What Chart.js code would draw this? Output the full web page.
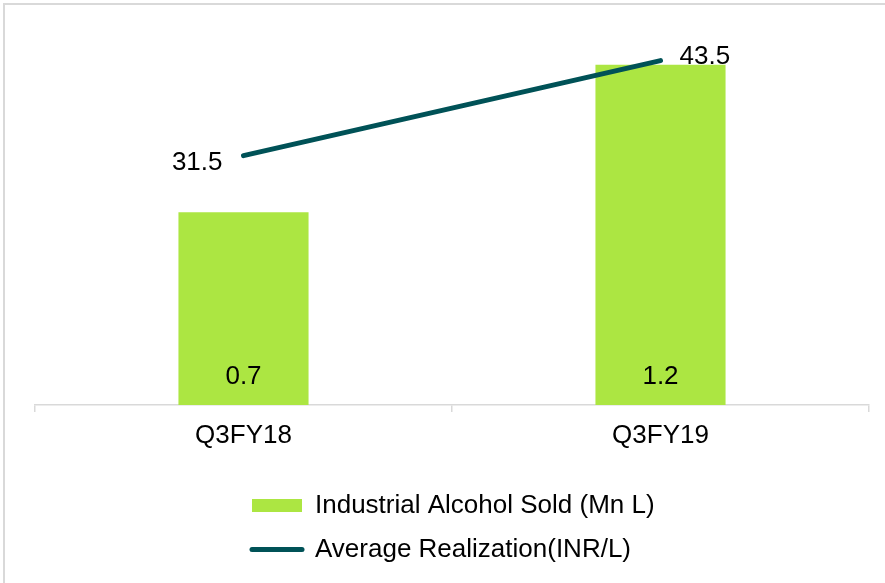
<!DOCTYPE html>
<html><head><meta charset="utf-8">
<script src="https://cdn.jsdelivr.net/npm/chart.js@4/dist/chart.umd.min.js"></script>
<style>
html,body{margin:0;padding:0;background:#fff;overflow:hidden;}
#wrap{position:relative;width:885px;height:583px;overflow:hidden;}
#frame{position:absolute;left:3px;top:3px;width:1000px;height:1000px;border-top:2px solid #d9d9d9;border-left:2px solid #d9d9d9;pointer-events:none;}
canvas{position:absolute;left:0;top:0;}
</style></head><body>
<div id="wrap"><canvas id="c" width="885" height="583"></canvas><div id="frame"></div></div>
<script>
// ---- data ----
const categories = ['Q3FY18', 'Q3FY19'];
const alcoholSold = [0.68, 1.2];          // Industrial Alcohol Sold (Mn L)
const avgRealization = [31.5, 43.5];      // Average Realization (INR/L)
const seriesNames = ['Industrial Alcohol Sold (Mn L)', 'Average Realization(INR/L)'];

// ---- style ----
const GREEN = '#ace642';
const TEAL = '#005257';
const FONT = { family: "'Liberation Sans', Arial, sans-serif", size: 26 };
const FONT_CSS = "26px 'Liberation Sans', Arial, sans-serif";
const LEGEND_LEFT = 234, LEGEND_TOP = 474.5;
const legendStyles = [
  { pointStyle: 'rect', fillStyle: GREEN, strokeStyle: GREEN, lineWidth: 0 },
  { pointStyle: 'line', fillStyle: TEAL, strokeStyle: TEAL, lineWidth: 5, lineCap: 'round' }
];
const lineLabelPlacement = [
  { align: 'right', dx: -21, dy: 7 },
  { align: 'left', dx: 19, dy: -4 }
];

const legendMover = {
  id: 'legendMover',
  afterLayout(chart) {
    const lg = chart.legend;
    if (!lg) return;
    const w = lg.width, h = lg.height;
    lg.left = LEGEND_LEFT; lg.top = LEGEND_TOP;
    lg.right = lg.left + w; lg.bottom = lg.top + h;
  }
};

const valueLabels = {
  id: 'valueLabels',
  afterDatasetsDraw(chart) {
    const ctx = chart.ctx;
    ctx.save();
    ctx.font = FONT_CSS;
    ctx.fillStyle = '#000';
    ctx.textBaseline = 'middle';
    chart.getDatasetMeta(0).data.forEach((el, i) => {
      const p = el.getProps(['x', 'base'], true);
      ctx.textAlign = 'center';
      ctx.fillText(alcoholSold[i].toFixed(1), p.x, p.base - 28);
    });
    chart.getDatasetMeta(1).data.forEach((el, i) => {
      const o = lineLabelPlacement[i];
      ctx.textAlign = o.align;
      ctx.fillText(avgRealization[i].toFixed(1), el.x + o.dx, el.y + o.dy);
    });
    ctx.restore();
  }
};

new Chart(document.getElementById('c'), {
  type: 'bar',
  data: {
    labels: categories,
    datasets: [
      { type: 'bar', label: seriesNames[0], data: alcoholSold, backgroundColor: GREEN,
        yAxisID: 'y', barPercentage: 0.312, categoryPercentage: 1, order: 1 },
      { type: 'line', label: seriesNames[1], data: avgRealization, borderColor: TEAL,
        backgroundColor: TEAL, borderWidth: 5, borderCapStyle: 'round', pointRadius: 0,
        tension: 0, yAxisID: 'y1', order: 0 }
    ]
  },
  options: {
    responsive: false,
    animation: false,
    devicePixelRatio: 1,
    layout: { padding: { left: 35, right: 16, top: 25, bottom: 123.8 } },
    scales: {
      x: {
        grid: { display: true, drawOnChartArea: false, drawTicks: true, tickLength: 7,
                color: '#d9d9d9', lineWidth: 1.5, offset: true },
        border: { display: true, color: '#d9d9d9', width: 1.5 },
        ticks: { color: '#000', font: FONT, padding: 8, maxRotation: 0 }
      },
      y: { display: false, min: 0, max: 1.34 },
      y1: { display: false, min: 0, max: 48, position: 'right' }
    },
    plugins: {
      tooltip: { enabled: false },
      legend: {
        position: 'chartArea',
        align: 'start',
        labels: {
          usePointStyle: true,
          pointStyleWidth: 50,
          boxHeight: 13,
          padding: 18,
          color: '#000',
          font: FONT,
          sort: (a, b) => a.datasetIndex - b.datasetIndex,
          generateLabels(chart) {
            const items = Chart.defaults.plugins.legend.labels.generateLabels(chart);
            items.forEach(it => Object.assign(it, legendStyles[it.datasetIndex]));
            return items;
          }
        }
      }
    }
  },
  plugins: [legendMover, valueLabels]
});
</script>
</body></html>
